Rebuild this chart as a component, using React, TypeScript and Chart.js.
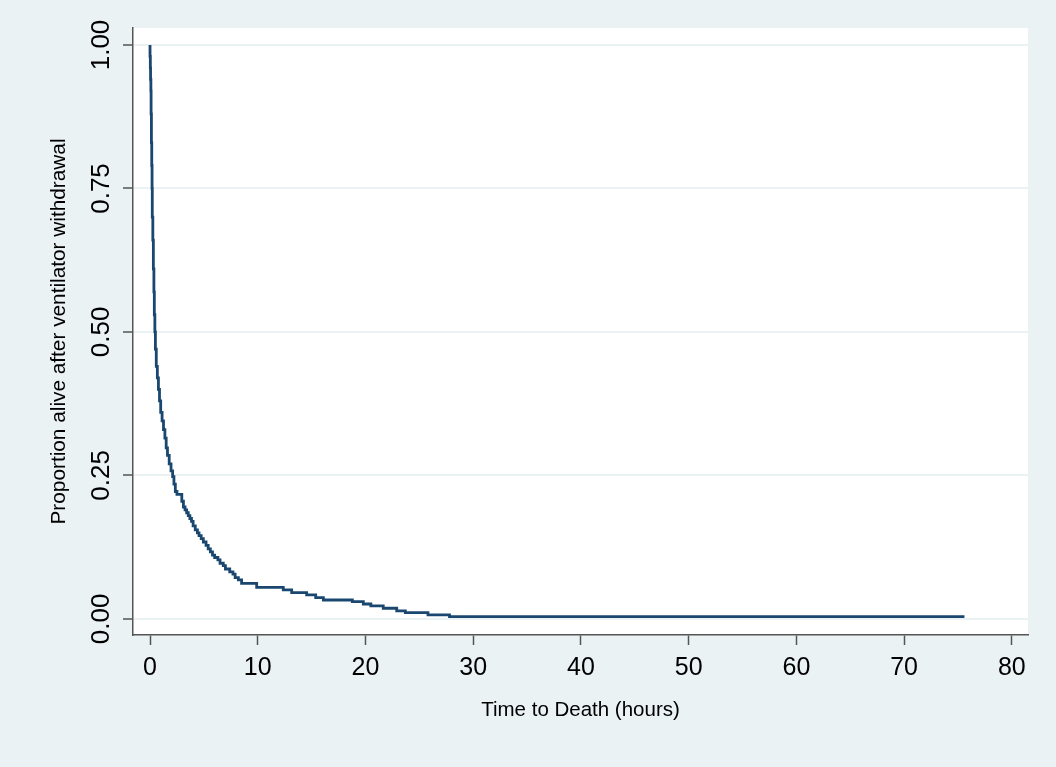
import React, { useEffect, useRef } from "react";
import { Chart, registerables } from "chart.js";

Chart.register(...registerables);

// Kaplan-Meier step curve: survival value that holds from each time onward
const timeHours = [
  0, 0.03, 0.05, 0.08, 0.1, 0.13, 0.16, 0.19, 0.21, 0.26, 0.31, 0.36, 0.4, 0.45, 0.5,
  0.58, 0.68, 0.78, 0.88, 0.99, 1.12, 1.25, 1.38, 1.5, 1.62, 1.78, 1.95, 2.1, 2.22, 2.35,
  2.5, 2.95, 3.1, 3.25, 3.4, 3.55, 3.7, 3.85, 4.0, 4.2, 4.4, 4.55, 4.75, 4.95, 5.2,
  5.4, 5.6, 5.8, 6.0, 6.3, 6.5, 6.8, 7.0, 7.4, 7.7, 7.9, 8.2, 8.5, 9.9, 12.37,
  13.15, 14.54, 15.38, 16.09, 18.78, 19.8, 20.5, 21.65, 22.9, 23.7, 25.8, 27.8, 32.3, 75.6,
];
const survival = [
  1.0, 0.98, 0.96, 0.94, 0.92, 0.88, 0.83, 0.79, 0.75, 0.7, 0.66, 0.61, 0.57, 0.53, 0.5,
  0.47, 0.44, 0.42, 0.4, 0.38, 0.36, 0.345, 0.33, 0.315, 0.298, 0.285, 0.27, 0.258, 0.248, 0.235,
  0.222, 0.217, 0.205, 0.195, 0.19, 0.185, 0.18, 0.175, 0.17, 0.162, 0.155, 0.15, 0.145, 0.14, 0.134,
  0.128, 0.122, 0.117, 0.111, 0.107, 0.103, 0.097, 0.093, 0.087, 0.082, 0.078, 0.072, 0.068, 0.062, 0.055,
  0.0505, 0.046, 0.042, 0.037, 0.033, 0.03, 0.026, 0.0226, 0.0186, 0.014, 0.011, 0.007, 0.004, 0.004,
];

const xTicks = [0, 10, 20, 30, 40, 50, 60, 70, 80];
const yTicks = [0, 0.25, 0.5, 0.75, 1];
const yTickLabels = ["0.00", "0.25", "0.50", "0.75", "1.00"];

const xTitle = "Time to Death (hours)";
const yTitle = "Proportion alive after ventilator withdrawal";

const BG = "#EAF2F3";
const LINE = "#1A476F";
const AXIS = "#555555";
const FONT = "'Liberation Sans', Arial, Helvetica, sans-serif";

const backgroundPlugin = {
  id: "bgPlugin",
  beforeDraw(chart: any) {
    const { ctx, chartArea, width, height } = chart;
    ctx.save();
    ctx.fillStyle = BG;
    ctx.fillRect(0, 0, width, height);
    ctx.fillStyle = "#FFFFFF";
    ctx.fillRect(chartArea.left, chartArea.top, chartArea.right - chartArea.left, chartArea.bottom - chartArea.top);
    ctx.restore();
  },
};

export default function App() {
  const canvasRef = useRef<HTMLCanvasElement | null>(null);

  useEffect(() => {
    if (!canvasRef.current) return;
    const points = timeHours.map((t, i) => ({ x: t, y: survival[i] }));
    const chart = new Chart(canvasRef.current, {
      type: "line",
      data: {
        datasets: [
          {
            data: points,
            borderColor: LINE,
            borderWidth: 2.8,
            pointRadius: 0,
            stepped: "after",
            fill: false,
          },
        ],
      },
      options: {
        animation: false,
        responsive: false,
        events: [],
        layout: { padding: { left: 0, right: 28, top: 28, bottom: 0 } },
        plugins: { legend: { display: false }, tooltip: { enabled: false } },
        scales: {
          x: {
            type: "linear",
            min: -1.58,
            max: 81.5,
            afterBuildTicks: (scale: any) => {
              scale.ticks = xTicks.map((v) => ({ value: v }));
            },
            afterFit: (scale: any) => {
              scale.height = 132;
            },
            grid: {
              drawOnChartArea: false,
              drawTicks: true,
              tickLength: 10,
              tickColor: AXIS,
              tickWidth: 1.5,
              color: AXIS,
            },
            border: { display: true, color: AXIS, width: 1.5 },
            ticks: {
              color: "#000",
              font: { family: FONT, size: 25 },
              padding: 8,
              maxRotation: 0,
              minRotation: 0,
              callback: (v: any) => String(v),
            },
            title: {
              display: true,
              text: xTitle,
              color: "#000",
              font: { family: FONT, size: 20.5 },
              padding: { top: 0, bottom: 44 },
            },
          },
          y: {
            type: "linear",
            min: -0.028,
            max: 1.0296,
            afterBuildTicks: (scale: any) => {
              scale.ticks = yTicks.map((v) => ({ value: v }));
            },
            afterFit: (scale: any) => {
              scale.width = 133;
            },
            grid: {
              drawOnChartArea: true,
              drawTicks: true,
              tickLength: 10,
              color: BG,
              lineWidth: 2,
              tickColor: AXIS,
              tickWidth: 1.5,
            },
            border: { display: true, color: AXIS, width: 1.5 },
            ticks: {
              color: "#000",
              font: { family: FONT, size: 26 },
              padding: -4,
              minRotation: 90,
              maxRotation: 90,
              crossAlign: "center",
              callback: (v: any) => {
                const idx = yTicks.indexOf(v);
                return idx >= 0 ? yTickLabels[idx] : "";
              },
            },
            title: {
              display: true,
              text: yTitle,
              color: "#000",
              font: { family: FONT, size: 20.8 },
              padding: { top: 47, bottom: 0 },
            },
          },
        },
      },
      plugins: [backgroundPlugin],
    } as any);
    return () => chart.destroy();
  }, []);

  return (
    <div
      style={{
        position: "fixed",
        left: 0,
        top: 0,
        width: 1056,
        height: 767,
        background: BG,
      }}
    >
      <canvas ref={canvasRef} width={1056} height={767} style={{ display: "block" }} />
    </div>
  );
}
